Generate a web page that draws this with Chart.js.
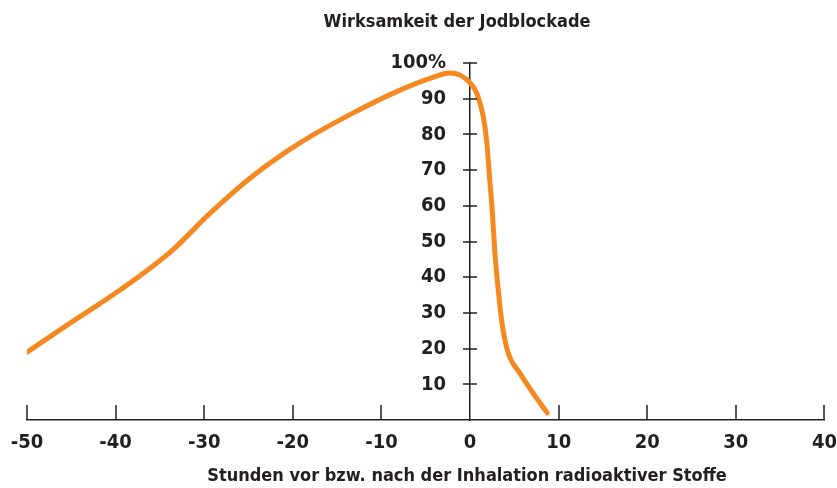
<!DOCTYPE html>
<html lang="de">
<head>
<meta charset="utf-8">
<title>Wirksamkeit der Jodblockade</title>
<script src="https://cdn.jsdelivr.net/npm/chart.js@4/dist/chart.umd.min.js"></script>
<style>
  html, body { margin: 0; padding: 0; background: #fff; }
  #wrap { width: 837px; height: 488px; }
</style>
</head>
<body>
<div id="wrap"><canvas id="chart"></canvas></div>
<script>
// Stunden relativ zur Inhalation (x) und Wirksamkeit in % (y)
const hours    = [-50, -45.1, -39.5, -33.8, -29.3, -24.8, -19.2, -13.5, -7.9, -4.2, -2.3, -1.1, 0, 0.75, 1.5, 1.9, 2.2, 2.5, 2.8, 3.2, 3.6, 4.3, 5.6, 7.1, 8.7];
const efficacy = [19, 27.2, 36.4, 47.1, 58, 67.8, 77.6, 85.6, 92.4, 96, 97.2, 96.6, 94.4, 91.6, 84.9, 77.6, 68, 58.8, 47, 36, 27.2, 18.8, 13.2, 7.6, 2];

const xTicks = [-50, -40, -30, -20, -10, 0, 10, 20, 30, 40];
const yTicks = [0, 10, 20, 30, 40, 50, 60, 70, 80, 90, 100];

const chartTitle = 'Wirksamkeit der Jodblockade';
const xTitle = 'Stunden vor bzw. nach der Inhalation radioaktiver Stoffe';

const INK = '#231f20';
const ORANGE = '#f5891f';
const FONT = '"DejaVu Sans Condensed", "DejaVu Sans", sans-serif';

// Tickmarken wie im Original: x nach oben, y kreuzend
const tickMarks = {
  id: 'tickMarks',
  afterDraw(chart) {
    const { ctx, scales: { x, y } } = chart;
    const y0 = y.getPixelForValue(0);
    const x0 = x.getPixelForValue(0);
    ctx.save();
    ctx.strokeStyle = INK;
    ctx.lineWidth = 1.5;
    ctx.beginPath();
    xTicks.forEach(v => {
      if (v === 0) return;
      const px = Math.round(x.getPixelForValue(v));
      ctx.moveTo(px, y0);
      ctx.lineTo(px, y0 - 15);
    });
    yTicks.forEach(v => {
      if (v === 0) return;
      const py = Math.round(y.getPixelForValue(v));
      ctx.moveTo(x0 - 7, py);
      ctx.lineTo(x0 + 7, py);
    });
    ctx.stroke();
    ctx.restore();
  }
};

// Überschrift und Achsentitel, leicht rechts der Mitte wie im Original
const captions = {
  id: 'captions',
  afterDraw(chart) {
    const { ctx, scales: { x } } = chart;
    const x0 = x.getPixelForValue(0);
    ctx.save();
    ctx.fillStyle = INK;
    ctx.font = 'bold 18px ' + FONT;
    ctx.textAlign = 'center';
    ctx.textBaseline = 'middle';
    ctx.fillText(chartTitle, x0 - 13, 22);
    ctx.fillText(xTitle, x0 - 3, 476);
    ctx.restore();
  }
};

const tickFont = { family: FONT, size: 20, weight: 'bold' };

new Chart(document.getElementById('chart'), {
  type: 'line',
  data: {
    datasets: [{
      data: hours.map((h, i) => ({ x: h, y: efficacy[i] })),
      borderColor: ORANGE,
      borderWidth: 5,
      borderCapStyle: 'round',
      borderJoinStyle: 'round',
      pointRadius: 0,
      cubicInterpolationMode: 'monotone',
      fill: false
    }]
  },
  options: {
    responsive: true,
    maintainAspectRatio: false,
    animation: false,
    layout: { padding: { left: 27, right: 12, top: 63, bottom: 33 } },
    plugins: {
      legend: { display: false },
      tooltip: { enabled: false },
      title: { display: false }
    },
    scales: {
      x: {
        type: 'linear',
        min: -50,
        max: 40,
        afterBuildTicks: s => { s.ticks = xTicks.map(v => ({ value: v })); },
        // unsichtbare Tickmarken nur als Abstand zu den Beschriftungen
        grid: { display: true, drawOnChartArea: false, drawTicks: true, tickLength: 11, tickColor: 'rgba(0,0,0,0)' },
        border: { display: true, color: INK, width: 1.5 },
        ticks: { color: INK, padding: 0, maxRotation: 0, font: tickFont }
      },
      y: {
        type: 'linear',
        position: { x: 0 },
        min: 0,
        max: 100,
        afterBuildTicks: s => { s.ticks = yTicks.map(v => ({ value: v })); },
        grid: { display: false, drawTicks: false },
        border: { display: true, color: INK, width: 1.5 },
        ticks: { display: false }
      },
      // Beschriftung der y-Achse, links neben der Achsenlinie
      yLabels: {
        type: 'linear',
        position: { x: -2.7 },
        min: 0,
        max: 100,
        afterBuildTicks: s => { s.ticks = yTicks.map(v => ({ value: v })); },
        grid: { display: false, drawTicks: false },
        border: { display: false },
        ticks: {
          color: INK,
          padding: 0,
          font: tickFont,
          callback: v => v === 0 ? '' : (v === 100 ? '100%' : String(v))
        }
      }
    }
  },
  plugins: [tickMarks, captions]
});
</script>
</body>
</html>
